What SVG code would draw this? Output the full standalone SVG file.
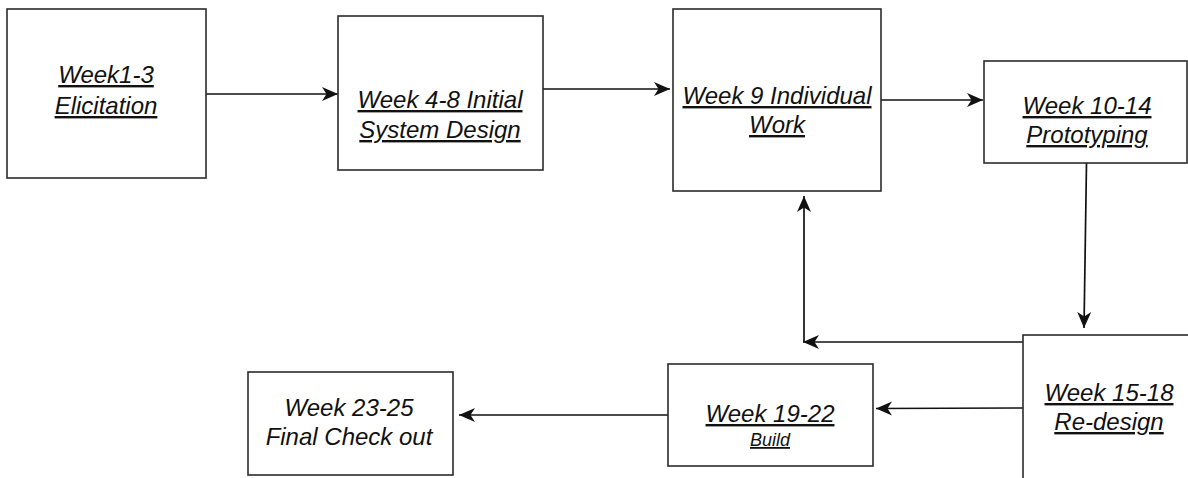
<svg xmlns="http://www.w3.org/2000/svg" width="1188" height="478" viewBox="0 0 1188 478">
  <style>
    .box { fill: #ffffff; stroke: #2b2b2b; stroke-width: 1.6; }
    .lbl { font-family: "Liberation Sans", Arial, sans-serif; font-style: italic; font-size: 24px; fill: #111111; text-anchor: middle; }
    .u { text-decoration: underline; }
    .small { font-size: 18px; }
    .edge { fill: none; stroke: #111111; stroke-width: 1.7; }
  </style>
  <defs>
    <marker id="arrow" markerUnits="userSpaceOnUse" markerWidth="18" markerHeight="16" refX="16" refY="8" orient="auto">
      <path d="M0,1 L16,8 L0,15 L4.5,8 Z" fill="#111111"/>
    </marker>
  </defs>
  <rect width="1188" height="478" fill="#ffffff"/>

  <g id="connectors">
    <line class="edge" x1="206" y1="94" x2="338" y2="94" marker-end="url(#arrow)"/>
    <line class="edge" x1="543" y1="89" x2="670" y2="89" marker-end="url(#arrow)"/>
    <line class="edge" x1="881" y1="100" x2="983" y2="100" marker-end="url(#arrow)"/>
    <line class="edge" x1="1086.5" y1="163" x2="1084" y2="328" marker-end="url(#arrow)"/>
    <line class="edge" x1="1023" y1="342" x2="803" y2="342" marker-end="url(#arrow)"/>
    <line class="edge" x1="804" y1="342" x2="804" y2="196" marker-end="url(#arrow)"/>
    <line class="edge" x1="1023" y1="408" x2="876" y2="408.5" marker-end="url(#arrow)"/>
    <line class="edge" x1="668" y1="415" x2="459" y2="415" marker-end="url(#arrow)"/>
  </g>

  <g id="elicitation">
    <rect class="box" x="7" y="9" width="199" height="169"/>
    <text class="lbl u" x="106" y="83">Week1-3</text>
    <text class="lbl u" x="106" y="114">Elicitation</text>
  </g>

  <g id="initial-design">
    <rect class="box" x="338" y="16" width="205" height="154"/>
    <text class="lbl u" x="440" y="108">Week 4-8 Initial</text>
    <text class="lbl u" x="440" y="138">System Design</text>
  </g>

  <g id="individual-work">
    <rect class="box" x="673" y="9" width="208" height="182"/>
    <text class="lbl u" x="777" y="104">Week 9 Individual</text>
    <text class="lbl u" x="777" y="133">Work</text>
  </g>

  <g id="prototyping">
    <rect class="box" x="984" y="61" width="203" height="102"/>
    <text class="lbl u" x="1087" y="114">Week 10-14</text>
    <text class="lbl u" x="1087" y="143">Prototyping</text>
  </g>

  <g id="redesign">
    <rect class="box" x="1023" y="335" width="200" height="170"/>
    <text class="lbl u" x="1109" y="401">Week 15-18</text>
    <text class="lbl u" x="1109" y="430">Re-design</text>
  </g>

  <g id="build">
    <rect class="box" x="668" y="364" width="205" height="102"/>
    <text class="lbl u" x="770" y="422">Week 19-22</text>
    <text class="lbl u small" x="770" y="446">Build</text>
  </g>

  <g id="final-check">
    <rect class="box" x="248" y="372" width="205" height="103"/>
    <text class="lbl" x="349" y="416">Week 23-25</text>
    <text class="lbl" x="349" y="445">Final Check out</text>
  </g>
</svg>
